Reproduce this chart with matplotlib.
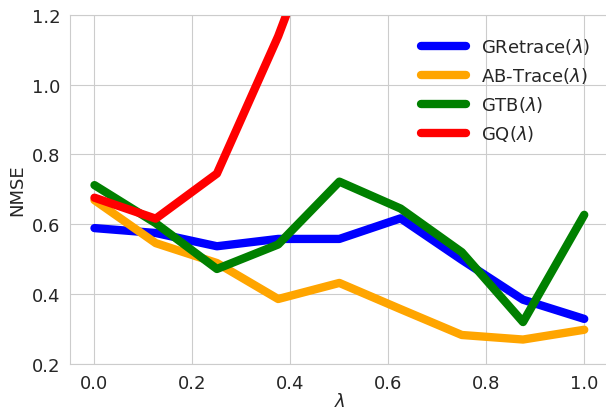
import matplotlib
matplotlib.use("Agg")
import matplotlib.pyplot as plt
import seaborn as sns
import numpy as np

lam = [0.0, 0.125, 0.25, 0.375, 0.5, 0.625, 0.75, 0.875, 1.0]
gretrace = [0.589, 0.575, 0.537, 0.558, 0.558, 0.617, 0.498, 0.384, 0.329]
abtrace = [0.669, 0.546, 0.489, 0.386, 0.432, 0.357, 0.283, 0.270, 0.298]
gtb = [0.712, 0.603, 0.472, 0.542, 0.722, 0.645, 0.520, 0.320, 0.627]
gq = [0.676, 0.616, 0.745, 1.138, 1.60, 2.00, 2.30, 2.50, 2.70]  # goes off the top after 0.375

sns.set_style("whitegrid")
plt.rcParams['font.family'] = ['DejaVu Sans']

fig = plt.figure(figsize=(6.06, 4.10), dpi=100)
ax = fig.add_axes([0.1155, 0.1098, 0.889, 0.852])

ax.plot(lam, gretrace, color="blue", lw=6, solid_capstyle="round", label=r"GRetrace($\lambda$)")
ax.plot(lam, abtrace, color="orange", lw=6, solid_capstyle="round", label=r"AB-Trace($\lambda$)")
ax.plot(lam, gtb, color="green", lw=6, solid_capstyle="round", label=r"GTB($\lambda$)")
ax.plot(lam, gq, color="red", lw=6, solid_capstyle="round", label=r"GQ($\lambda$)")

ax.set_ylim(0.2, 1.2)
ax.set_xlim(-0.05, 1.05)
ax.set_yticks([0.2, 0.4, 0.6, 0.8, 1.0, 1.2])
ax.set_xticks([0.0, 0.2, 0.4, 0.6, 0.8, 1.0])
ax.tick_params(labelsize=13, colors="#262626")
ax.set_xlabel(r"$\lambda$", fontsize=13, color="#262626", labelpad=0)
ax.set_ylabel("NMSE", fontsize=13, color="#262626")

ax.legend(loc="upper right", fontsize=13, frameon=False, handlelength=2.5,
          bbox_to_anchor=(0.995, 0.985))

fig.savefig("out.png", dpi=100)
